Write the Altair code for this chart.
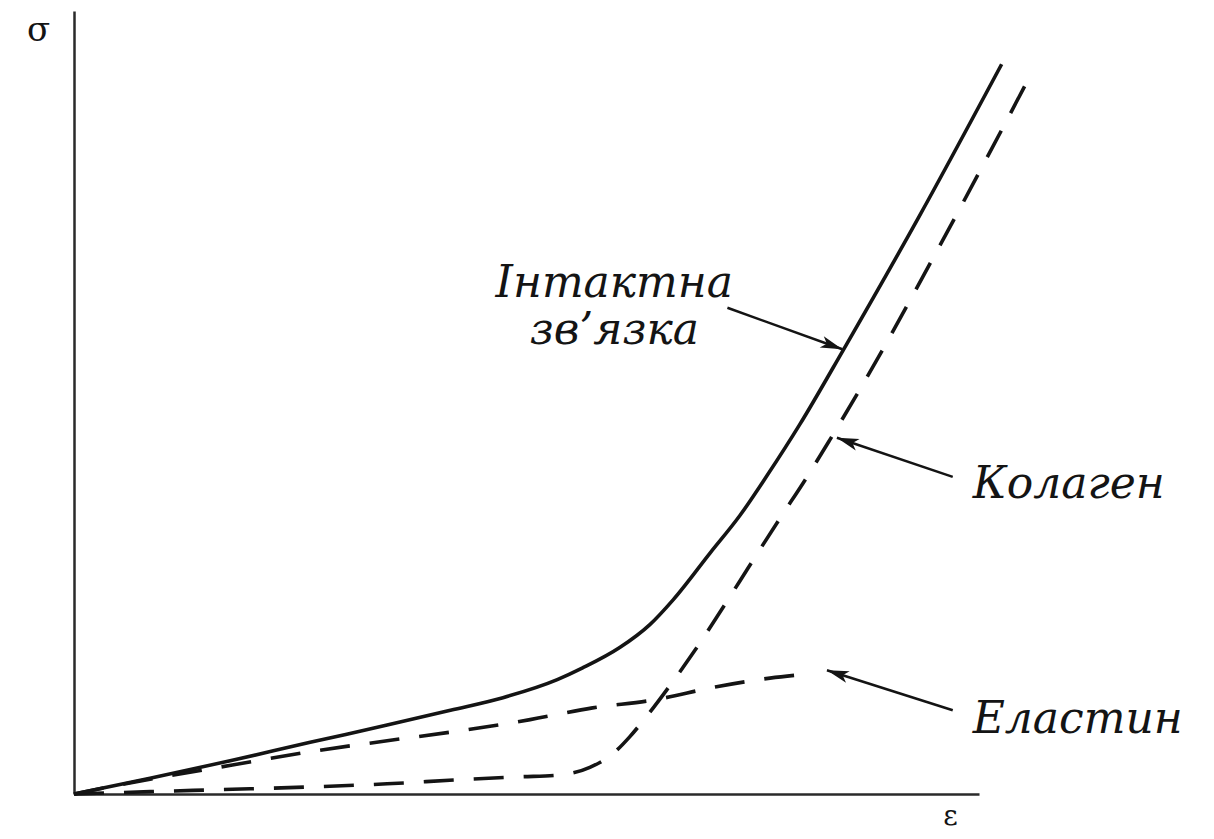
import math
import altair as alt
import pandas as pd

# ---- data (strain ε, stress σ in relative units) ----
intact_eps = [0, 0.084, 0.175, 0.261, 0.346, 0.416, 0.474, 0.534, 0.562, 0.603,
              0.636, 0.662, 0.703, 0.736, 0.766, 0.802, 0.850, 0.935, 1.025]
intact_sig = [0, 0.020, 0.043, 0.066, 0.088, 0.107, 0.123, 0.146, 0.161, 0.187,
              0.216, 0.248, 0.308, 0.356, 0.407, 0.472, 0.567, 0.740, 0.932]

collagen_eps = [0, 0.084, 0.175, 0.261, 0.346, 0.423, 0.493, 0.534, 0.570, 0.596,
                0.614, 0.634, 0.655, 0.684, 0.722, 0.744, 0.780, 0.810, 0.835,
                0.865, 0.957, 1.056]
collagen_sig = [0, 0.003, 0.006, 0.009, 0.013, 0.018, 0.022, 0.024, 0.034, 0.052,
                0.073, 0.101, 0.133, 0.180, 0.247, 0.287, 0.352, 0.405, 0.452,
                0.510, 0.701, 0.916]

elastin_eps = [0, 0.084, 0.175, 0.261, 0.346, 0.416, 0.504, 0.573, 0.640, 0.710,
               0.769, 0.808]
elastin_sig = [0, 0.019, 0.037, 0.054, 0.068, 0.079, 0.095, 0.110, 0.120, 0.137,
               0.148, 0.153]

# annotation labels
label_text = ["Інтактна\nзв’язка", "Колаген", "Еластин"]
label_eps = [0.597, 0.993, 0.993]
label_sig = [0.635, 0.378, 0.078]
label_anchor = ["center", "left", "left"]

# arrows: tail -> tip
arrow_tail_eps = [0.722, 0.971, 0.971]
arrow_tail_sig = [0.621, 0.405, 0.107]
arrow_tip_eps = [0.849, 0.843, 0.832]
arrow_tip_sig = [0.568, 0.455, 0.158]

W, H = 905, 783
INK = "#141414"

curves = pd.concat([
    pd.DataFrame({"series": "Інтактна зв’язка", "eps": intact_eps, "sig": intact_sig}),
    pd.DataFrame({"series": "Колаген", "eps": collagen_eps, "sig": collagen_sig}),
    pd.DataFrame({"series": "Еластин", "eps": elastin_eps, "sig": elastin_sig}),
], ignore_index=True)

labels = pd.DataFrame({"text": label_text, "eps": label_eps, "sig": label_sig,
                       "anchor": label_anchor})

angles = []
for te, ts, pe, ps in zip(arrow_tail_eps, arrow_tail_sig, arrow_tip_eps, arrow_tip_sig):
    dx = (pe - te) * W
    dy = -(ps - ts) * H
    angles.append(math.degrees(math.atan2(dx, -dy)) % 360)

arrows = pd.DataFrame({"eps": arrow_tail_eps, "sig": arrow_tail_sig,
                       "eps2": arrow_tip_eps, "sig2": arrow_tip_sig})
heads = pd.DataFrame({"eps": arrow_tip_eps, "sig": arrow_tip_sig, "angle": angles})

xs = alt.Scale(domain=[0, 1], nice=False, zero=False)
ys = alt.Scale(domain=[0, 1], nice=False, zero=False)

x_axis = alt.Axis(title="ε", titleX=876, titleY=30, titleAlign="center",
                  titleBaseline="alphabetic", titleFont="DejaVu Serif",
                  titleFontSize=28, titleFontWeight="normal", titleColor=INK,
                  labels=False, ticks=False, grid=False,
                  domainColor="#2a2a2a", domainWidth=2.5)
y_axis = alt.Axis(title="σ", titleAngle=0, titleX=-36, titleY=29, titleAlign="center",
                  titleBaseline="alphabetic", titleFont="DejaVu Serif",
                  titleFontSize=34, titleFontWeight="normal", titleColor=INK,
                  labels=False, ticks=False, grid=False,
                  domainColor="#2a2a2a", domainWidth=2.5)

X = alt.X("eps:Q", scale=xs, axis=x_axis)
Y = alt.Y("sig:Q", scale=ys, axis=y_axis)

solid = alt.Chart(curves[curves["series"] == "Інтактна зв’язка"]).mark_line(
    color=INK, strokeWidth=3.6, interpolate="monotone"
).encode(x=X, y=Y)

dashed = alt.Chart(curves[curves["series"] != "Інтактна зв’язка"]).mark_line(
    color=INK, strokeWidth=3.6, strokeDash=[30, 20], interpolate="monotone"
).encode(x=X, y=Y, detail="series:N")

arrow_lines = alt.Chart(arrows).mark_rule(color=INK, strokeWidth=2.5).encode(
    x=X, y=Y, x2="eps2:Q", y2="sig2:Q")

arrow_heads = alt.Chart(heads).mark_point(
    shape="M0,0 L0.55,2 L0,1.5 L-0.55,2 Z", size=480, filled=True,
    color=INK, opacity=1, strokeWidth=0
).encode(x=X, y=Y, angle=alt.Angle("angle:Q", scale=None))

text_layers = []
for al in ["center", "left"]:
    text_layers.append(
        alt.Chart(labels[labels["anchor"] == al]).mark_text(
            font="DejaVu Serif", fontStyle="italic", fontSize=44, color=INK,
            align=al, baseline="alphabetic", lineBreak="\n", lineHeight=47
        ).encode(x=X, y=Y, text="text:N")
    )

chart = alt.layer(solid, dashed, arrow_lines, arrow_heads, *text_layers).properties(
    width=W, height=H,
    autosize=alt.AutoSizeParams(type="none"),
    padding={"left": 66, "top": 3, "right": 220, "bottom": 37},
    background="white",
).configure_view(strokeWidth=0)

chart.save("out.html", embed_options={"renderer": "svg", "actions": False})
